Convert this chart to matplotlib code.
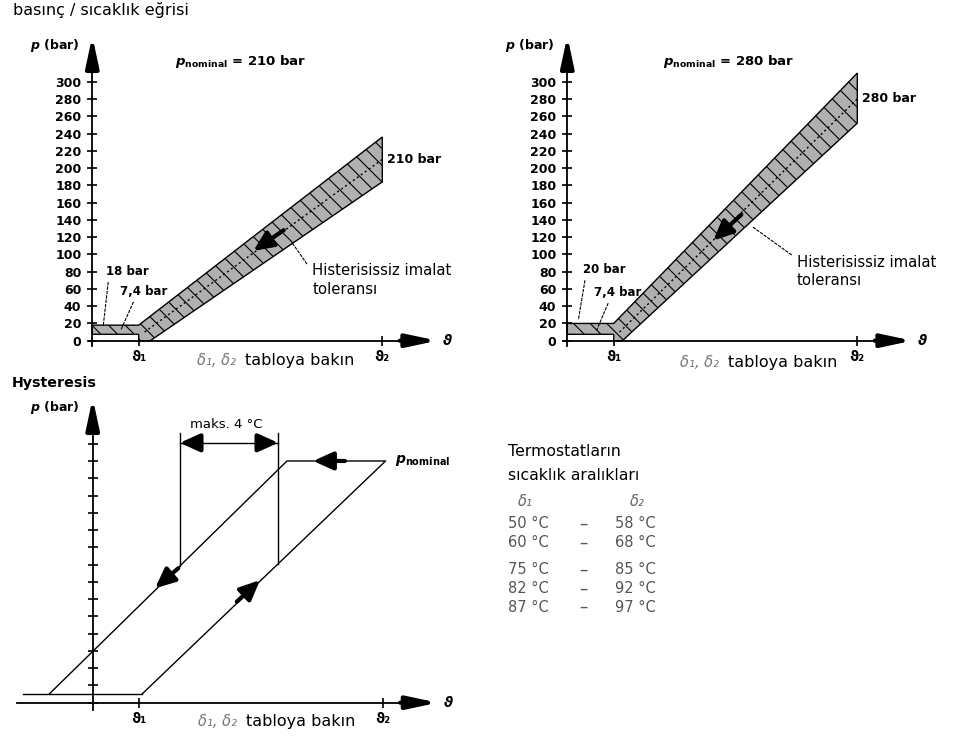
import matplotlib.pyplot as plt
import numpy as np

plt.rcParams['font.family'] = ['DejaVu Sans']
plt.rcParams['mathtext.fontset'] = 'custom'
plt.rcParams['mathtext.it'] = 'DejaVu Sans:italic:bold'
plt.rcParams['mathtext.rm'] = 'DejaVu Sans:bold'
plt.rcParams['hatch.linewidth'] = 0.8

# ---- data -------------------------------------------------------------
p_ticks = np.arange(0, 301, 20)          # bar
delta_pos = [16, 100]                    # ϑ1, ϑ2 on the (relative) temperature axis
delta_labels = ['ϑ₁', 'ϑ₂']

# 210 bar thermostat: tolerance band outline (temperature, pressure)
nom_a = 210
band_a_x = [0, 0, 16, 100, 100, 20, 16, 16]
band_a_p = [7.4, 18, 18, 236, 184, 0, 0, 7.4]
mid_a_x = [18, 100]
mid_a_p = [10, nom_a]

# 280 bar thermostat
nom_b = 280
band_b_x = [0, 0, 16, 100, 100, 19, 16, 16]
band_b_p = [7.4, 20, 20, 310, 252, 0, 0, 7.4]
mid_b_x = [18, 100]
mid_b_p = [10, nom_b]

# hysteresis loop
hyst_base_x = [-24, 17]
hyst_base_p = [10, 10]
hyst_loop_x = [-15, 67, 101, 17]
hyst_loop_p = [10, 280, 280, 10]
dim_x = [30, 64]          # 'maks. 4 °C' marks
dim_top = 312
dim_line = 301

# temperature ranges table
t_delta1 = [50, 60, 75, 82, 87]
t_delta2 = [58, 68, 85, 92, 97]

# ---- layout helpers ---------------------------------------------------
W, H = 957, 740
SX, SY = 2.9, 0.8633      # pixels per unit on x / per bar on y

fig = plt.figure(figsize=(W / 100, H / 100), dpi=100)

ARROW = dict(arrowstyle='-|>,head_length=1.5,head_width=0.32', lw=3,
             color='black', mutation_scale=12, shrinkA=0, shrinkB=0)
SMALL_ARROW = dict(arrowstyle='-|>,head_length=1.0,head_width=0.45', lw=3,
                   color='black', mutation_scale=12, shrinkA=0, shrinkB=0)


def make_axes(x0, y0, xlim, ylim, x_lo=-1, y_lo=-6, ylabels=True):
    """ Axes whose data origin sits at pixel (x0, y0) """
    left = x0 + xlim[0] * SX
    right = x0 + xlim[1] * SX
    bottom = y0 - ylim[0] * SY
    top = y0 - ylim[1] * SY
    ax = fig.add_axes([left / W, 1 - bottom / H, (right - left) / W, (bottom - top) / H])
    ax.set_xlim(xlim)
    ax.set_ylim(ylim)
    ax.patch.set_alpha(0)
    ax.spines[['top', 'right']].set_visible(False)
    ax.spines['left'].set_position(('data', 0))
    ax.spines['bottom'].set_position(('data', 0))
    ax.spines['left'].set_bounds(y_lo, 322)
    ax.spines['bottom'].set_bounds(x_lo, 110)
    for s in ['left', 'bottom']:
        ax.spines[s].set_linewidth(1.3)
    ax.set_yticks(p_ticks)
    ax.set_yticklabels([str(v) for v in p_ticks] if ylabels else [])
    ax.set_xticks(delta_pos, delta_labels)
    ax.tick_params(direction='inout', length=7.7, width=1.2, labelsize=9)
    ax.tick_params(axis='y', pad=4)
    ax.tick_params(axis='x', pad=3, labelsize=10)
    for lbl in ax.get_xticklabels() + ax.get_yticklabels():
        lbl.set_fontweight('bold')
    # axis arrows and names
    ax.annotate('', xy=(0, 353), xytext=(0, 316), arrowprops=ARROW)
    ax.annotate('', xy=(119, 0), xytext=(106, 0), arrowprops=ARROW)
    ax.text(121, 0, 'ϑ', fontsize=10, fontweight='bold', style='italic', va='center')
    ax.text(-4.5, 342, '$p$ (bar)', fontsize=9, fontweight='bold', ha='right', va='center')
    return ax


def caption(ax, x_split, p):
    ax.text(x_split - 1.5, p, 'δ₁, δ₂', fontsize=10.5, style='italic', color='#777777',
            ha='right', va='center')
    ax.text(x_split + 1.5, p, 'tabloya bakın', fontsize=11.5, ha='left', va='center')


def band_panel(ax, band_x, band_p, mid_x, mid_p, nom, hi_lbl, lead_hi, lead_lo,
               arrow_tip, arrow_tail, leader, text_xy, nom_x, cap):
    ax.fill(band_x, band_p, facecolor='#b0b0b0', edgecolor='black', hatch='\\\\',
            linewidth=1.0, zorder=2)
    ax.plot(mid_x, mid_p, color='black', linestyle=(0, (1.5, 2)), lw=1.0, zorder=3)
    ax.annotate('', xy=arrow_tip, xytext=arrow_tail, arrowprops=SMALL_ARROW, zorder=4)
    # leader lines
    dash = dict(color='black', lw=0.8, linestyle=(0, (3, 1)))
    ax.plot(*zip(*leader), **dash)
    ax.plot(*zip(*lead_hi), **dash)
    ax.plot(*zip(*lead_lo), **dash)
    ax.text(text_xy[0], text_xy[1], 'Histerisissiz imalat\ntoleransı', fontsize=10.7,
            va='center', ha='left', linespacing=1.3)
    ax.text(lead_hi[0][0] - 0.8, lead_hi[0][1] + 12, f'{hi_lbl} bar', fontsize=8.5,
            fontweight='bold', va='center')
    ax.text(lead_lo[0][0] - 4.8, lead_lo[0][1] + 12, '7,4 bar', fontsize=8.5,
            fontweight='bold', va='center')
    ax.text(101.5, nom, f'{nom} bar', fontsize=9, fontweight='bold', va='center')
    ax.text(nom_x, 323, r'$p_{\mathrm{nominal}}$' + f' = {nom} bar', fontsize=9.5,
            fontweight='bold', va='center')
    caption(ax, cap[0], cap[1])


# ---- panel 1: 210 bar -------------------------------------------------
ax1 = make_axes(92.3, 340.7, (-32, 130), (-45, 375))
band_panel(ax1, band_a_x, band_a_p, mid_a_x, mid_a_p, nom_a, 18,
           lead_hi=[(5.5, 68), (3.8, 18)], lead_lo=[(14.2, 45), (9.8, 12)],
           arrow_tip=(55.5, 104), arrow_tail=(66, 128),
           leader=[(69, 113), (74.2, 88)], text_xy=(75.9, 70.5),
           nom_x=28.6, cap=(51.2, -22.4))

# ---- panel 2: 280 bar -------------------------------------------------
ax2 = make_axes(567.3, 340.7, (-30, 130), (-45, 375))
band_panel(ax2, band_b_x, band_b_p, mid_b_x, mid_b_p, nom_b, 20,
           lead_hi=[(6.1, 70), (3.8, 24)], lead_lo=[(14.1, 43.5), (10.1, 12)],
           arrow_tip=(50.3, 116), arrow_tail=(60, 146),
           leader=[(64, 131.6), (77.5, 99)], text_xy=(79.1, 80),
           nom_x=33.1, cap=(53.8, -25.4))

# ---- panel 3: hysteresis ----------------------------------------------
ax3 = make_axes(92.7, 702.7, (-32, 130), (-40, 375), x_lo=-26, y_lo=-9, ylabels=False)
ax3.plot(hyst_base_x, hyst_base_p, color='black', lw=1.0)
ax3.plot(hyst_loop_x, hyst_loop_p, color='black', lw=1.0)
left_x, right_x = hyst_loop_x[:2], hyst_loop_x[2:][::-1]
left_p, right_p = hyst_loop_p[:2], hyst_loop_p[2:][::-1]
dim_lo = [np.interp(dim_x[0], left_x, left_p), np.interp(dim_x[1], right_x, right_p)]
for x, lo in zip(dim_x, dim_lo):
    ax3.plot([x, x], [lo, dim_top], color='black', lw=1.0)
ax3.plot(dim_x, [dim_line, dim_line], color='black', lw=1.0)
ax3.annotate('', xy=(dim_x[0], dim_line), xytext=(dim_x[0] + 6, dim_line), arrowprops=SMALL_ARROW)
ax3.annotate('', xy=(dim_x[1], dim_line), xytext=(dim_x[1] - 6, dim_line), arrowprops=SMALL_ARROW)
ax3.text(np.mean(dim_x) - 1, dim_top + 3, 'maks. 4 °C', fontsize=9.5, ha='center', va='bottom')
# direction arrows on the loop
ax3.annotate('', xy=(21.5, 132.5), xytext=(29.5, 155.7), arrowprops=SMALL_ARROW)
ax3.annotate('', xy=(57.7, 142), xytext=(49.7, 117), arrowprops=SMALL_ARROW)
ax3.annotate('', xy=(76, 280), xytext=(87, 280), arrowprops=SMALL_ARROW)
ax3.text(104.2, 280, r'$p_{\mathrm{nominal}}$', fontsize=10, va='center')
caption(ax3, 51.2, -21.9)

# ---- titles and table -------------------------------------------------
fig.text(12.7 / W, 1 - 9.5 / H, 'basınç / sıcaklık eğrisi', fontsize=11.5, va='center')
fig.text(11.7 / W, 1 - 383 / H, 'Hysteresis', fontsize=10.3, fontweight='bold', va='center')

fig.text(508 / W, 1 - 451.7 / H, 'Termostatların', fontsize=11.3, va='center')
fig.text(508 / W, 1 - 476 / H, 'sıcaklık aralıkları', fontsize=11.3, va='center')
fig.text(525 / W, 1 - 501 / H, 'δ₁', fontsize=10.5, style='italic', color='#666666',
         ha='center', va='center')
fig.text(637 / W, 1 - 501 / H, 'δ₂', fontsize=10.5, style='italic', color='#666666',
         ha='center', va='center')
for i, (d1, d2) in enumerate(zip(t_delta1, t_delta2)):
    y = 524 + 18.5 * i + (9 if i >= 2 else 0)
    fig.text(508 / W, 1 - y / H, f'{d1} °C', fontsize=10.5, color='#555555', va='center')
    fig.text(583 / W, 1 - y / H, '–', fontsize=12, color='#555555', ha='center', va='center')
    fig.text(615 / W, 1 - y / H, f'{d2} °C', fontsize=10.5, color='#555555', va='center')

fig.savefig('out.png', dpi=100)
